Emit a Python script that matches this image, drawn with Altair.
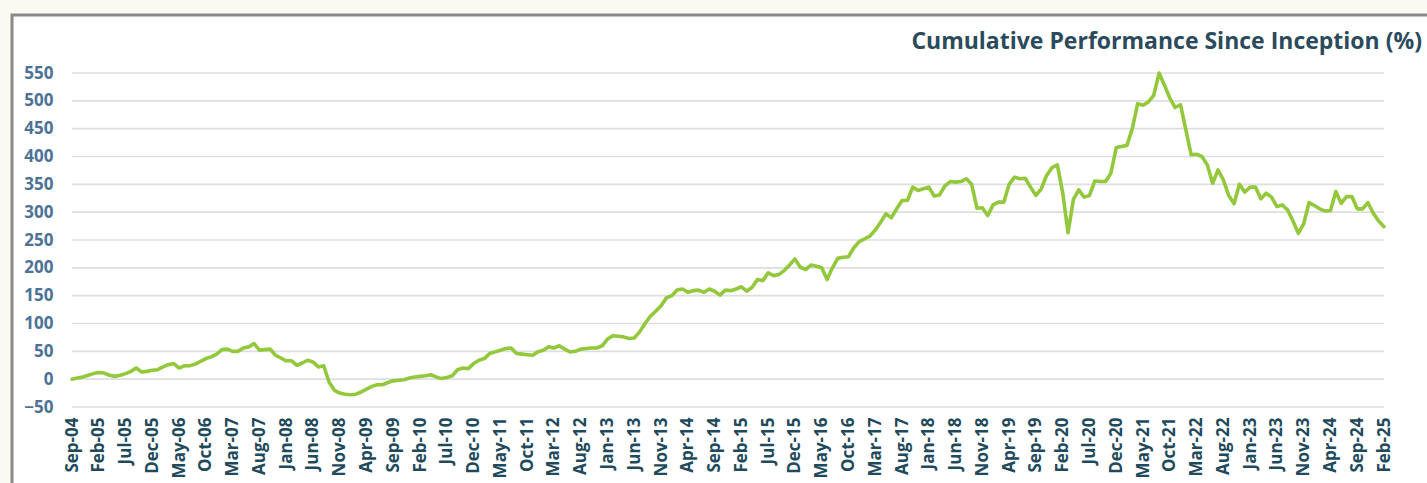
import altair as alt
import pandas as pd

MONTHS = ["Jan", "Feb", "Mar", "Apr", "May", "Jun", "Jul", "Aug", "Sep", "Oct", "Nov", "Dec"]

# Monthly labels Sep-04 .. Feb-25
month_labels = []
y, m = 2004, 8
while (y, m) <= (2025, 1):
    month_labels.append(f"{MONTHS[m]}-{str(y)[2:]}")
    m += 1
    if m == 12:
        m = 0
        y += 1

# Cumulative performance (%), one value per month
performance = [
    0, 2, 4, 7, 10, 12, 11, 7, 5, 7,
    10, 14, 20, 13, 14, 16, 17, 22, 26, 28,
    20, 24, 24, 27, 32, 37, 40, 45, 53, 54,
    50, 50, 56, 58, 64, 52, 53, 54, 43, 38,
    33, 33, 25, 29, 34, 31, 22, 24, -5, -20,
    -25, -27, -28, -27, -23, -18, -13, -10, -10, -6,
    -3, -2, -1, 2, 4, 5, 6, 8, 4, 1,
    3, 6, 17, 20, 19, 28, 34, 37, 46, 49,
    52, 55, 56, 46, 45, 44, 43, 49, 52, 58,
    56, 60, 54, 49, 50, 54, 55, 56, 56, 60,
    72, 78, 77, 76, 73, 74, 85, 100, 113, 122,
    132, 146, 150, 160, 162, 156, 159, 160, 156, 162,
    158, 151, 160, 159, 162, 166, 158, 165, 179, 177,
    191, 186, 188, 195, 205, 216, 201, 197, 205, 203,
    200, 179, 200, 217, 219, 220, 236, 247, 252, 257,
    268, 282, 297, 290, 306, 321, 321, 345, 339, 342,
    345, 329, 331, 347, 355, 354, 355, 360, 350, 307,
    308, 294, 313, 318, 318, 350, 363, 360, 361, 345,
    330, 342, 366, 380, 385, 335, 263, 323, 340, 327,
    330, 356, 355, 355, 370, 416, 418, 420, 450, 495,
    492, 498, 510, 550, 528, 505, 488, 493, 448, 403,
    404, 400, 385, 352, 376, 358, 330, 315, 350, 336,
    345, 345, 324, 334, 327, 310, 313, 304, 284, 262,
    279, 317, 312, 306, 302, 303, 337, 316, 328, 328,
    306, 306, 317, 298, 284, 274,
]

tick_labels = month_labels[::5]
y_ticks = [-50, 0, 50, 100, 150, 200, 250, 300, 350, 400, 450, 500, 550]
title_text = "Cumulative Performance Since Inception (%)"

df = pd.DataFrame({"month": month_labels, "value": performance})
grid_df = pd.DataFrame({"g": y_ticks})
panel_df = pd.DataFrame({"p": [0]})

FONT = "Open Sans"
W, H = 1312, 334

xscale = alt.Scale(type="point", padding=0)
yscale = alt.Scale(domain=[-50, 550], nice=False, zero=False)

y_axis = alt.Axis(values=y_ticks, labelFont=FONT, labelFontWeight="bold",
                  labelFontSize=17, labelColor="#4d7296", labelPadding=19,
                  ticks=False, domain=False, grid=False, zindex=1)

panel = alt.Chart(panel_df).mark_rect(
    fill="white", stroke="#8a8a8a", strokeWidth=3, clip=False
).encode(
    x=alt.value(-60), y=alt.value(-58), x2=alt.value(1420), y2=alt.value(520)
)

title = alt.Chart(panel_df).mark_text(
    text=title_text, font=FONT, fontSize=23, fontWeight="bold",
    color="#2b4a5b", align="right", baseline="alphabetic", clip=False
).encode(x=alt.value(1350), y=alt.value(-24))

grid = alt.Chart(grid_df).mark_rule(color="#dedede", strokeWidth=1.6).encode(
    y=alt.Y("g:Q", scale=yscale, title=None, axis=y_axis)
)

line = alt.Chart(df).mark_line(
    color="#93c83c", strokeWidth=3.6, strokeJoin="round", strokeCap="round"
).encode(
    x=alt.X("month:O", sort=month_labels, scale=xscale, title=None,
            axis=alt.Axis(values=tick_labels, labelAngle=270, labelFont=FONT,
                          labelFontWeight="bold", labelFontSize=17,
                          labelColor="#1f4a5c", labelPadding=10, ticks=False,
                          domain=False, grid=False, labelOverlap=False, zindex=1)),
    y=alt.Y("value:Q", scale=yscale, title=None, axis=y_axis),
)

chart = alt.layer(panel, title, grid, line).properties(
    width=W, height=H,
    autosize=alt.AutoSizeParams(type="none"),
    padding={"left": 72, "top": 73, "right": 43, "bottom": 76},
    background="#fafaf2",
).configure_view(stroke=None)

chart.save("out.html", embed_options={"renderer": "svg", "actions": False})
